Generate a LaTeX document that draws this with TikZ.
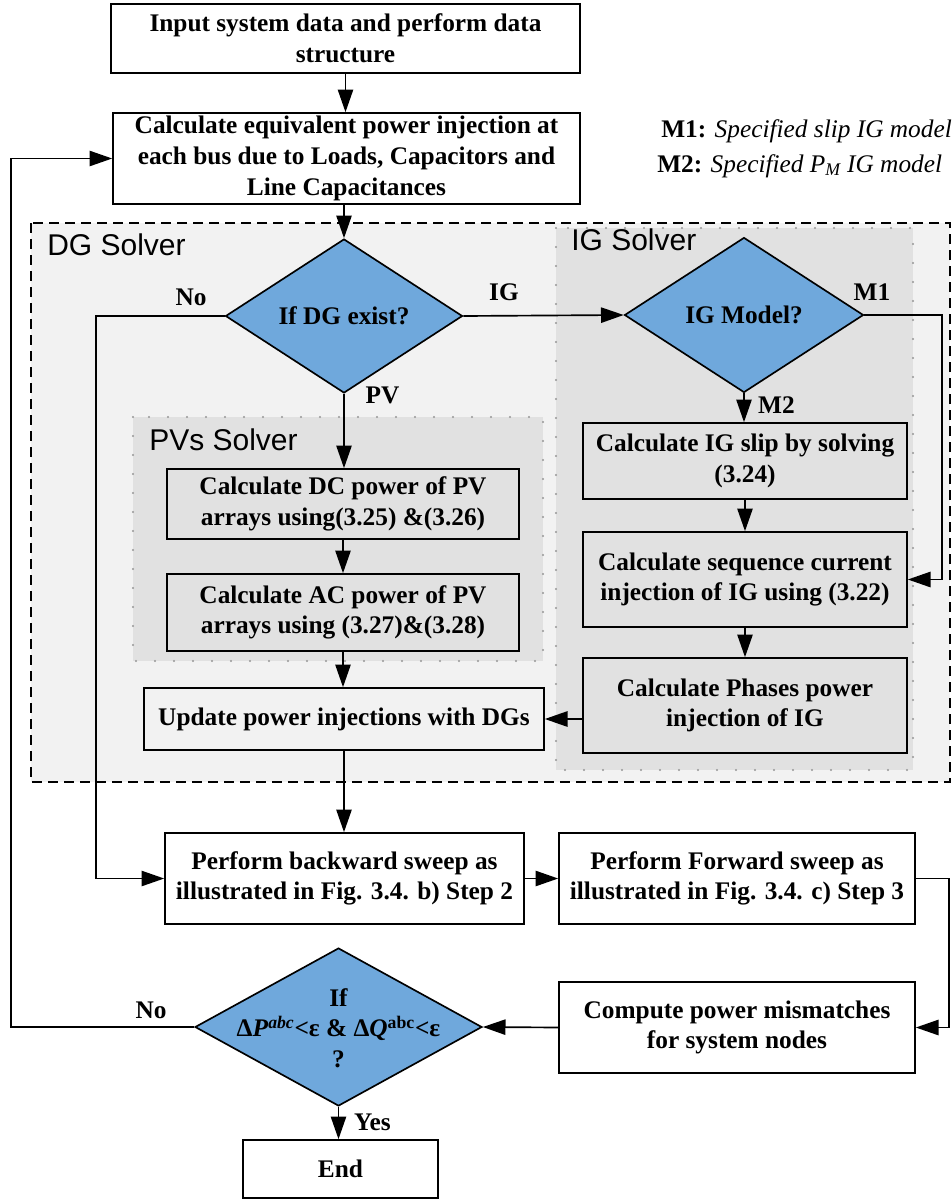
\documentclass[tikz,border=0pt]{standalone}
\usepackage{fontspec}
\setmainfont{Liberation Serif}
\newfontfamily\solverfont{Liberation Sans}
\usetikzlibrary{shapes.geometric,arrows.meta}

\definecolor{dgbg}{RGB}{242,242,242}
\definecolor{subbg}{RGB}{225,225,225}
\definecolor{dotgray}{RGB}{150,150,150}
\definecolor{decblue}{RGB}{111,168,220}

\begin{document}
\begin{tikzpicture}[x=0.75pt,y=-0.75pt,
  font=\fontsize{19}{23}\selectfont\bfseries,
  box/.style={draw, line width=1.25pt, align=center, inner sep=2pt},
  whitebox/.style={box, fill=white},
  graybox/.style={box, fill=subbg},
  lightbox/.style={box, fill=dgbg},
  decision/.style={diamond, draw, line width=1.25pt, fill=decblue, inner sep=0pt, aspect=1.5},
  qtext/.style={align=center, inner sep=0pt},
  lbl/.style={anchor=base, inner sep=0pt},
  solverlbl/.style={anchor=base west, inner sep=0pt, font=\solverfont\fontsize{22.5}{26}\selectfont},
  flow/.style={line width=1.25pt, -{Triangle[length=17pt,width=11.5pt]}},
  dgframe/.style={draw, line width=1.2pt, dash pattern=on 7.5pt off 4.5pt, fill=dgbg},
  subframe/.style={draw=dotgray, line width=1.8pt, line cap=round, dash pattern=on 0pt off 14.25pt, fill=subbg}
]
\useasboundingbox (0,0) rectangle (952,1200);

% solver regions
\path[dgframe] (31,223) rectangle (950,782);
\path[subframe] (556,228) rectangle (913,770);
\path[subframe] (133,417) rectangle (543,661);
\node[solverlbl] (dglbl) at (47,255) {DG Solver};
\node[solverlbl] (iglbl) at (571,250) {IG Solver};
\node[solverlbl] (pvlbl) at (149,450) {PVs Solver};

% legend
\node[anchor=base west, inner sep=0pt] (leg1) at (661,137) {M1: \textmd{\itshape Specified slip IG model}};
\node[anchor=base west, inner sep=0pt] (leg2) at (657,172) {M2: \textmd{\itshape Specified P\textsubscript{M} IG model}};

% main flow
\node[whitebox, minimum width=351.75pt, minimum height=51.75pt] (in1) at (345.5,38.5)
  {Input system data and perform data\\structure};
\node[whitebox, minimum width=350.25pt, minimum height=68.25pt] (calc) at (346.5,158.5)
  {Calculate equivalent power injection at\\each bus due to Loads, Capacitors and\\Line Capacitances};

\node[decision, minimum width=177.75pt, minimum height=115.5pt] (dg) at (344,316) {};
\node[qtext] (dgq) at (dg) {If DG exist?};

\node[decision, minimum width=179.25pt, minimum height=116.25pt] (igm) at (744,315) {};
\node[qtext] (igmq) at (igm) {IG Model?};

\node[graybox, minimum width=243pt, minimum height=57pt] (slip) at (745,461)
  {Calculate IG slip by solving\\(3.24)};
\node[graybox, minimum width=243pt, minimum height=71.25pt] (seq) at (745,579.5)
  {Calculate sequence current\\injection of IG using (3.22)};
\node[graybox, minimum width=243pt, minimum height=71.25pt] (phs) at (745,705.5)
  {Calculate Phases power\\injection of IG};

\node[graybox, minimum width=264pt, minimum height=52.5pt] (dc) at (343,504)
  {Calculate DC power of PV\\arrays using(3.25) \&(3.26)};
\node[graybox, minimum width=264pt, minimum height=57.75pt] (ac) at (343,612.5)
  {Calculate AC power of PV\\arrays using (3.27)\&(3.28)};
\node[lightbox, minimum width=300pt, minimum height=46.5pt] (upd) at (344,719)
  {Update power injections with DGs};

\node[whitebox, minimum width=269.25pt, minimum height=68.25pt] (bwd) at (344.5,878.5)
  {Perform backward sweep as\\illustrated in Fig. 3.4. b) Step 2};
\node[whitebox, minimum width=267pt, minimum height=68.25pt] (fwd) at (737,878.5)
  {Perform Forward sweep as\\illustrated in Fig. 3.4. c) Step 3};
\node[whitebox, minimum width=267pt, minimum height=68.25pt] (cmp) at (737,1027.5)
  {Compute power mismatches\\for system nodes};

\node[decision, minimum width=215.25pt, minimum height=118.5pt] (conv) at (338.5,1027) {};
\node[qtext] (convq) at (338.5,1028)
  {If\\Δ\textit{P}\textsuperscript{\textit{abc}}<ε \& Δ\textit{Q}\textsuperscript{abc}<ε\\?};

\node[whitebox, minimum width=146.25pt, minimum height=43.5pt] (end) at (340.5,1169) {End};

% branch corners
\coordinate (nocorner) at (96,316);
\coordinate (m1corner) at (942,315);
\coordinate (fwdcorner) at (949,878.5);
\coordinate (loopcorner) at (11,1027);

% connectors
\draw[flow] (in1.south) -- (in1.south |- calc.north);
\draw[flow] (dg.north |- calc.south) -- (dg.north);
\draw[flow] (dg.east) -- (igm.west);
\draw[flow] (dg.south) -- (dg.south |- dc.north);
\draw[flow] (dc.south) -- (dc.south |- ac.north);
\draw[flow] (ac.south) -- (ac.south |- upd.north);
\draw[flow] (igm.south) -- (igm.south |- slip.north);
\draw[flow] (slip.south) -- (seq.north);
\draw[flow] (seq.south) -- (phs.north);
\draw[flow] (igm.east) -- (m1corner) |- (seq.east);
\draw[flow] (phs.west |- upd.east) -- (upd.east);
\draw[flow] (upd.south) -- (upd.south |- bwd.north);
\draw[flow] (dg.west) -- (nocorner) |- (bwd.west);
\draw[flow] (bwd.east) -- (fwd.west);
\draw[flow] (fwd.east) -- (fwdcorner) |- (cmp.east);
\draw[flow] (cmp.west) -- (conv.east);
\draw[flow] (conv.west) -- (loopcorner) |- (calc.west);
\draw[flow] (conv.south) -- (conv.south |- end.north);

% branch labels
\node[lbl] (lno1) at (191,305) {No};
\node[lbl] (lig) at (504,300) {IG};
\node[lbl] (lpv) at (382.5,403) {PV};
\node[lbl] (lm1) at (872,300) {M1};
\node[lbl] (lm2) at (776.5,413) {M2};
\node[lbl] (lno2) at (151,1018) {No};
\node[lbl] (lyes) at (372.5,1130) {Yes};
\end{tikzpicture}
\end{document}
